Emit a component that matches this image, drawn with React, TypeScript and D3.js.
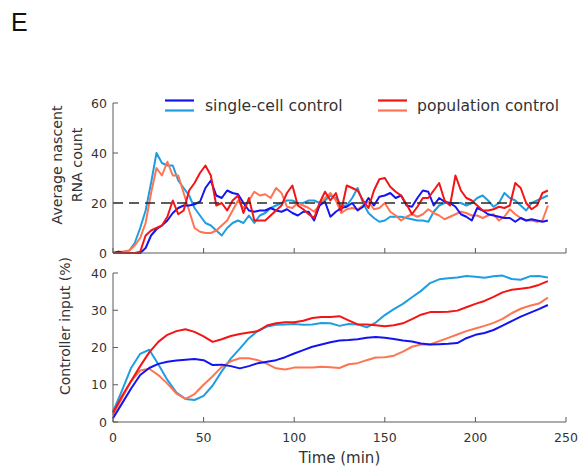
import React from "react";
import * as d3 from "d3";

// ---------- DATA ----------
const timeTop = d3.range(0, 241, 3); // minutes
const timeBottom = d3.range(0, 241, 5);

const rnaSingleCellA = [
  0, 0.5, 0, 0, 0, 0, 2, 7, 9.5, 11,
  13, 16, 18, 19, 19, 19.5, 20.5, 26, 29, 23,
  22, 25, 24, 23.5, 20, 17, 16.5, 17, 17, 18,
  17, 16.5, 17.5, 16, 15, 16.5, 16.5, 13, 19, 20.5,
  14.5, 16.5, 18, 18.5, 20, 17, 18.5, 22, 19, 22.5,
  23, 24, 22, 23, 19, 18.5, 22, 25, 24.5, 19,
  22, 20.5, 20, 18.5, 15.5, 14.5, 13, 18, 17, 15.5,
  15, 14.5, 14, 14, 12.5, 14, 13, 13.5, 13, 12.5,
  13,
];
const rnaSingleCellB = [
  0, 0, 0.5, 1, 4, 10, 17, 28, 40, 36,
  35, 35, 29, 26, 23, 18, 15, 12, 11, 9,
  7, 10, 12, 13, 12, 15, 12, 15, 16, 18,
  19, 20, 21, 21, 20, 20, 21, 21, 20, 21,
  23, 22, 19, 19, 22, 26, 20, 16, 14, 12.5,
  13, 14.5, 14.5, 14.5, 14, 13.5, 13, 13, 12.5, 16.5,
  19, 20, 20, 20, 20, 19, 20, 22, 23, 21,
  18.5, 20, 24, 22, 21, 19, 17, 20, 21, 22,
  23,
];
const rnaPopulationA = [
  0, 0, 0, 0, 0, 0.5, 7, 9, 10, 11,
  14.5, 21, 15.5, 17, 25, 28, 32, 35, 31, 19,
  20, 17, 21, 23, 16, 22, 13, 13, 13, 15,
  17, 19, 24, 27, 19, 17.5, 15.5, 14, 20, 24.5,
  21, 24, 17, 27, 26, 25, 21, 18, 25, 29.5,
  30, 26.5, 24.5, 23, 19.5, 15.5, 18.5, 22, 22, 25,
  28, 21, 19, 31, 25, 22, 21, 19, 17, 17,
  17.5, 18.5, 18, 19, 28, 26, 20, 17.5, 19, 24,
  25,
];
const rnaPopulationB = [
  0, 0.5, 0.5, 1, 3, 6, 12, 24, 34, 31,
  36.5, 31, 31, 24, 17, 10, 8.5, 8, 8, 9,
  11, 13, 17, 21, 18, 21, 24.5, 23, 23.5, 22,
  26, 24, 18.5, 18, 20, 19, 18, 16.5, 19, 22,
  24, 21, 16, 17.5, 18, 17.5, 19, 20.5, 17.5, 18,
  20, 16.5, 15, 13, 14.5, 15.5, 14.5, 15.5, 17.5, 16,
  15, 13.5, 14.5, 15.5, 16.5, 16, 15, 15, 14, 15,
  15.5, 13, 14.5, 17.5, 15.5, 14, 13, 13, 12.5, 13,
  19,
];

const inputSingleCellA = [
  1, 5, 9, 12.6, 14.5, 15.6, 16.2, 16.5, 16.7, 16.9,
  16.6, 15.3, 15.4, 15, 14.4, 15, 15.8, 16.2, 16.6, 17.4,
  18.4, 19.3, 20.2, 20.8, 21.4, 21.9, 22, 22.2, 22.6, 22.8,
  22.6, 22.3, 21.9, 21.6, 21.1, 20.8, 20.9, 21, 21.2, 22.5,
  23.4, 23.9, 24.7, 25.9, 27.1, 28.3, 29.3, 30.3, 31.4,
];
const inputSingleCellB = [
  2.8, 8.5, 14.5, 18.3, 19.4, 15.5, 11.3, 7.9, 6.2, 5.9,
  7, 9.8, 13.6, 17, 19.7, 22.5, 24.5, 25.6, 26.1, 26.2,
  26.3, 26.1, 26.2, 26.6, 26.5, 25.8, 26.3, 26.2, 25.4, 26.7,
  28.7, 30.3, 31.7, 33.5, 35.2, 37.3, 38.3, 38.6, 38.8, 39.2,
  39, 38.7, 39.1, 39.3, 38.4, 38.2, 39.1, 39.2, 38.8,
];
const inputPopulationA = [
  2.5, 7, 11, 15, 18.7, 21.5, 23.4, 24.4, 24.9, 24.2,
  23, 21.5, 22.2, 23.1, 23.6, 24, 24.4, 25.9, 26.5, 26.8,
  26.8, 27.2, 27.9, 28.2, 28.2, 28.4, 27.3, 26.2, 26.2, 26,
  25.7, 26, 26.5, 27.6, 28.8, 29.5, 29.5, 29.6, 29.9, 30.8,
  31.7, 32.5, 33.6, 34.8, 35.5, 35.8, 36.1, 36.8, 37.8,
];
const inputPopulationB = [
  1.9, 6.5, 11, 13.8, 14.3, 12.6, 10.3, 7.6, 6.2, 7.5,
  10, 12.3, 14.8, 16.3, 17.1, 17.1, 16.6, 15.6, 14.4, 14.1,
  14.6, 14.6, 14.6, 14.8, 14.7, 14.5, 15.5, 15.8, 16.6, 17.3,
  17.4, 17.8, 18.9, 20.2, 20.8, 20.8, 21.7, 22.6, 23.5, 24.4,
  25.1, 25.8, 26.6, 27.7, 29.2, 30.4, 31.2, 31.8, 33.4,
];

const xTicks = [0, 50, 100, 150, 200, 250];
const yTicksTop = [0, 20, 40, 60];
const yTicksBottom = [0, 10, 20, 30, 40];
const setpoint = 20;
const legendLabels = ["single-cell control", "population control"];

// ---------- STYLE ----------
const C_BLUE = "#1414f0";
const C_LBLUE = "#1e9ee0";
const C_RED = "#f41414";
const C_SALMON = "#ff7452";
const AXIS = "#5a5a5a";
const TEXT = "#333333";
const FONT = "'DejaVu Sans', Verdana, sans-serif";

export default function App() {
  const W = 583, H = 470;
  const x = d3.scaleLinear().domain([0, 250]).range([113, 566]);
  const yTop = d3.scaleLinear().domain([0, 60]).range([253, 103]);
  const yBot = d3.scaleLinear().domain([0, 40]).range([422, 273]);

  const mkLine = (ys: d3.ScaleLinear<number, number>, t: number[]) =>
    d3.line<number>().x((_, i) => x(t[i])).y((v) => ys(v));

  const topLine = mkLine(yTop, timeTop);
  const botLine = mkLine(yBot, timeBottom);

  const topSeries = [
    { d: rnaSingleCellB, c: C_LBLUE },
    { d: rnaPopulationB, c: C_SALMON },
    { d: rnaSingleCellA, c: C_BLUE },
    { d: rnaPopulationA, c: C_RED },
  ];
  const botSeries = [
    { d: inputSingleCellB, c: C_LBLUE },
    { d: inputPopulationB, c: C_SALMON },
    { d: inputSingleCellA, c: C_BLUE },
    { d: inputPopulationA, c: C_RED },
  ];

  const axisFrame = (ys: d3.ScaleLinear<number, number>, yt: number[], showX: boolean, key: string) => {
    const y0 = ys.range()[0];
    const y1 = ys.range()[1];
    return (
      <g key={key}>
        <line x1={113} x2={113} y1={y0} y2={y1} stroke={AXIS} strokeWidth={1} />
        <line x1={113} x2={566} y1={y0} y2={y0} stroke={AXIS} strokeWidth={1} />
        {yt.map((v) => (
          <g key={"y" + v}>
            <line x1={113} x2={118} y1={ys(v)} y2={ys(v)} stroke={AXIS} />
            <text x={107} y={ys(v) + 4.5} textAnchor="end" fontSize={12.5} fill={TEXT} fontFamily={FONT}>
              {v}
            </text>
          </g>
        ))}
        {xTicks.map((v) => (
          <g key={"x" + v}>
            <line x1={x(v)} x2={x(v)} y1={y0} y2={y0 - 5} stroke={AXIS} />
            {showX && (
              <text x={x(v)} y={y0 + 20} textAnchor="middle" fontSize={12.5} fill={TEXT} fontFamily={FONT}>
                {v}
              </text>
            )}
          </g>
        ))}
      </g>
    );
  };

  return (
    <svg width={W} height={H} style={{ position: "absolute", left: 0, top: 0, background: "#fff" }}>
      <rect width={W} height={H} fill="#fff" />
      <text x={11} y={31} fontSize={25} fontFamily="'Liberation Sans', Arial, sans-serif" fill="#111">E</text>

      {/* top panel */}
      {topSeries.map((s, i) => (
        <path key={"t" + i} d={topLine(s.d) || ""} fill="none" stroke={s.c} strokeWidth={2} strokeLinejoin="round" />
      ))}
      <line x1={x(0)} x2={x(240)} y1={yTop(setpoint)} y2={yTop(setpoint)} stroke="#2a2a2a" strokeWidth={1.5} strokeDasharray="10,6" />
      {axisFrame(yTop, yTicksTop, false, "top")}

      {/* bottom panel */}
      {botSeries.map((s, i) => (
        <path key={"b" + i} d={botLine(s.d) || ""} fill="none" stroke={s.c} strokeWidth={2} strokeLinejoin="round" />
      ))}
      {axisFrame(yBot, yTicksBottom, true, "bot")}

      {/* axis titles */}
      <text transform="translate(62,165) rotate(-90)" textAnchor="middle" fontSize={14.2} fill={TEXT} fontFamily={FONT}>Average nascent</text>
      <text transform="translate(82,165) rotate(-90)" textAnchor="middle" fontSize={14.2} fill={TEXT} fontFamily={FONT}>RNA count</text>
      <text transform="translate(70,326) rotate(-90)" textAnchor="middle" fontSize={14} fill={TEXT} fontFamily={FONT}>Controller input (%)</text>
      <text x={x(125)} y={463} textAnchor="middle" fontSize={15} fill={TEXT} fontFamily={FONT}>Time (min)</text>

      {/* legend */}
      <line x1={165} x2={194} y1={100.5} y2={100.5} stroke={C_BLUE} strokeWidth={2.2} />
      <line x1={165} x2={194} y1={110.5} y2={110.5} stroke={C_LBLUE} strokeWidth={2.2} />
      <text x={205} y={110.5} fontSize={15.6} fill={TEXT} fontFamily={FONT}>{legendLabels[0]}</text>
      <line x1={378} x2={407} y1={100.5} y2={100.5} stroke={C_RED} strokeWidth={2.2} />
      <line x1={378} x2={407} y1={110.5} y2={110.5} stroke={C_SALMON} strokeWidth={2.2} />
      <text x={417} y={110.5} fontSize={15.6} fill={TEXT} fontFamily={FONT}>{legendLabels[1]}</text>
    </svg>
  );
}
